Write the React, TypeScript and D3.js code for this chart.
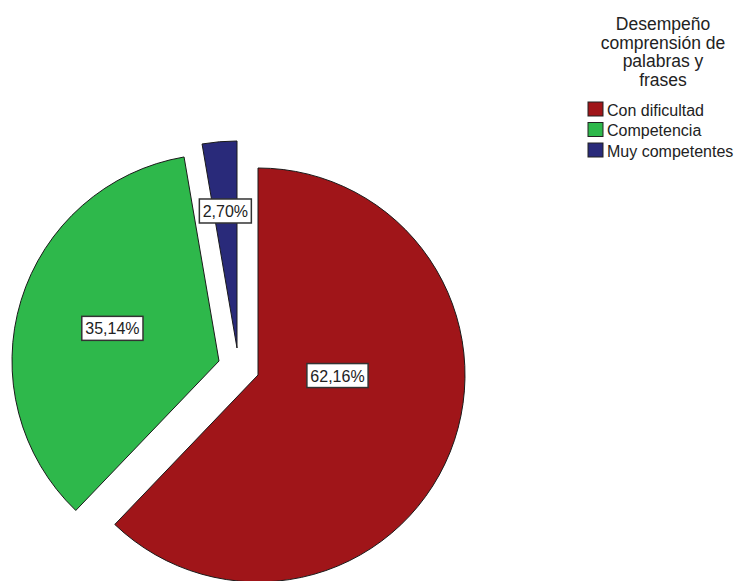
import React from "react";
import * as d3 from "d3";

const categories = ["Con dificultad", "Competencia", "Muy competentes"];
const percentages = [62.16, 35.14, 2.7];
const percentLabels = ["62,16%", "35,14%", "2,70%"];
const legendTitle = ["Desempeño", "comprensión de", "palabras y", "frases"];

const colors = ["#A01519", "#2EB84B", "#292A7A"];
// style: explode offsets (px) and label placement (polar from slice apex)
const explode = [
  { dx: 0, dy: 0 },
  { dx: -39, dy: -14 },
  { dx: -21, dy: -27 },
];
const labelPlacement = [
  { angleDeg: 90.4, r: 79.5 },
  { angleDeg: null as number | null, r: 111.5 },
  { angleDeg: null as number | null, r: 137.5 },
];

const W = 737;
const H = 581;
const CX = 258;
const CY = 375;
const R = 207;

export default function App() {
  const pie = d3
    .pie<number>()
    .sort(null)
    .value((d) => d)
    .startAngle(0)
    .endAngle(2 * Math.PI);
  const arcs = pie(percentages);
  const arcGen = d3.arc<d3.PieArcDatum<number>>().innerRadius(0).outerRadius(R);

  const font = "'Liberation Sans', Arial, sans-serif";

  const labelWidths = percentLabels.map((t) => t.length * 9.2 + 6);

  return (
    <div style={{ position: "absolute", left: 0, top: 0 }}>
      <svg width={W} height={H} style={{ display: "block", background: "#fff" }}>
        {arcs.map((a, i) => (
          <g key={i} transform={`translate(${CX + explode[i].dx},${CY + explode[i].dy})`}>
            <path d={arcGen(a) || ""} fill={colors[i]} stroke="#1a1a1a" strokeWidth={1} strokeLinejoin="round" />
          </g>
        ))}
        {arcs.map((a, i) => {
          const lp = labelPlacement[i];
          const ang = lp.angleDeg != null ? (lp.angleDeg * Math.PI) / 180 : (a.startAngle + a.endAngle) / 2;
          const x = CX + explode[i].dx + Math.sin(ang) * lp.r;
          const y = CY + explode[i].dy - Math.cos(ang) * lp.r;
          const w = labelWidths[i];
          const h = 24;
          return (
            <g key={"l" + i} transform={`translate(${x},${y})`}>
              <rect x={-w / 2} y={-h / 2} width={w} height={h} fill="#fff" stroke="#333" strokeWidth={1.5} />
              <text
                x={0}
                y={6}
                textAnchor="middle"
                fontFamily={font}
                fontSize={16}
                fill="#222"
              >
                {percentLabels[i]}
              </text>
            </g>
          );
        })}
        <g>
          {legendTitle.map((t, i) => (
            <text
              key={"t" + i}
              x={663}
              y={30 + i * 18.5}
              textAnchor="middle"
              fontFamily={font}
              fontSize={17.5}
              fill="#222"
            >
              {t}
            </text>
          ))}
          {categories.map((c, i) => (
            <g key={"c" + i} transform={`translate(588,${102 + i * 20.5})`}>
              <rect x={0} y={0} width={15} height={14} fill={colors[i]} stroke="#222" strokeWidth={1} />
              <text x={19} y={13.5} fontFamily={font} fontSize={16} fill="#222">
                {c}
              </text>
            </g>
          ))}
        </g>
      </svg>
    </div>
  );
}
